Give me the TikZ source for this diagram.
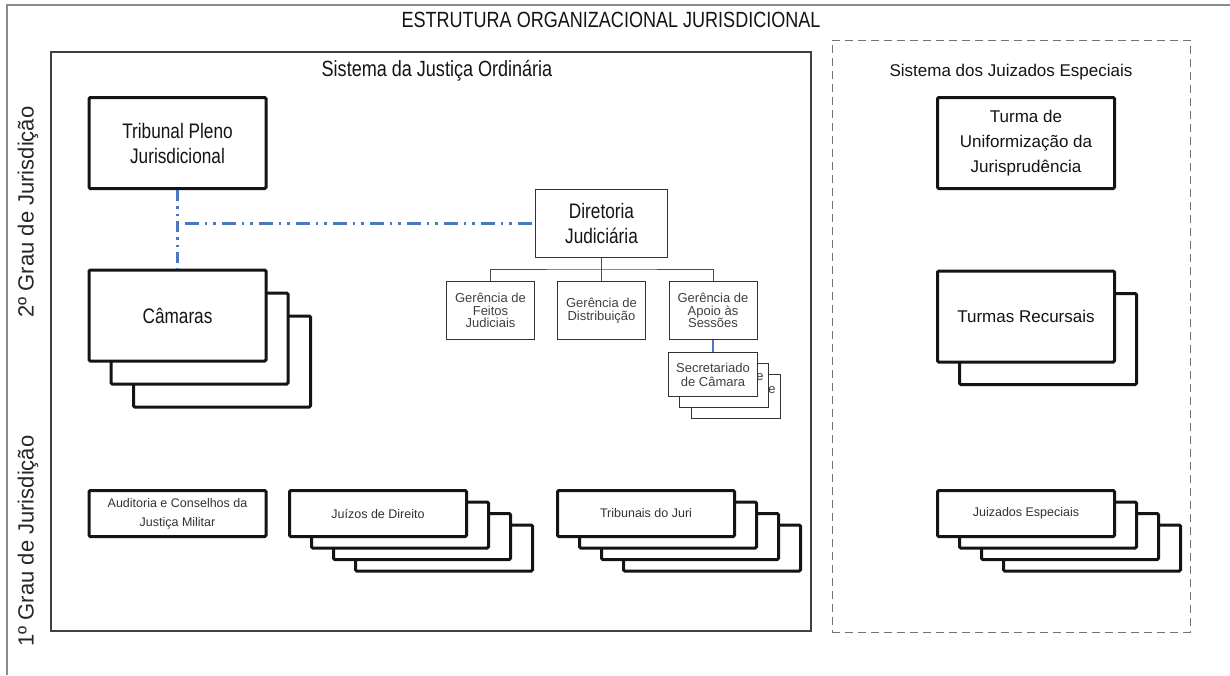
\documentclass[tikz,border=0pt]{standalone}
\usepackage{fontspec}
\setmainfont{Liberation Sans}
\newfontfamily\narrow[FakeStretch=0.82]{Liberation Sans}
\definecolor{jblue}{HTML}{4A78C2}
\newcommand\setfs[2]{\fontsize{#1}{#2}\selectfont}
\begin{document}
\begin{tikzpicture}[x=1pt,y=-1pt,
  thickbox/.style={draw=black!92, line width=3pt, fill=white, rounded corners=1.2pt, inner sep=0pt, align=center, minimum width=177pt},
  thinbox/.style={draw=black!80, line width=1pt, fill=white, inner sep=0pt, align=center},
  bigL/.style={font=\narrow\setfs{21}{25}, text=black!92},
  bigR/.style={font=\setfs{17}{25}, text=black!92},
  smalltxt/.style={font=\setfs{13}{12.5}, text=black!75},
  bottxt/.style={font=\setfs{12.5}{19}, text=black!80},
  tallbox/.style={thickbox, minimum height=91pt},
  lowbox/.style={thickbox, minimum height=46pt},
  gerbox/.style={thinbox, minimum width=88pt, minimum height=58pt, smalltxt},
  secbox/.style={thinbox, minimum width=89pt, minimum height=44pt, font=\setfs{13}{14}, text=black!75},
  blueline/.style={draw=jblue, line width=2.5pt},
  treeline/.style={draw=black!70, line width=1pt}
]
\useasboundingbox (0,0) rectangle (1230,675);

% outer frame
\draw[draw=black!45, line width=1.5pt] (7,675) -- (7,5) -- (1230,5);
\node[font=\narrow\setfs{22}{26}, text=black!92] (title) at (611,20) {ESTRUTURA ORGANIZACIONAL JURISDICIONAL};

% side labels
\node[rotate=90, font=\setfs{22}{26}, text=black!85] (grau2) at (28,212) {2º Grau de Jurisdição};
\node[rotate=90, font=\setfs{22}{26}, text=black!85] (grau1) at (28,541) {1º Grau de Jurisdição};

% system frames
\node[draw=black!75, line width=1.2pt, minimum width=760pt, minimum height=579pt, inner sep=0pt] (ord) at (431,341.5) {};
\node[font=\narrow\setfs{22}{26}, text=black!92] (ordt) at (437,71) {Sistema da Justiça Ordinária};
\node[draw=black!55, line width=1pt, dash pattern=on 8pt off 5pt, minimum width=358pt, minimum height=592pt, inner sep=0pt] (esp) at (1011,336) {};
\node[font=\setfs{17}{20}, text=black!92] (espt) at (1011,72) {Sistema dos Juizados Especiais};

% 2nd degree, left
\node[tallbox, bigL] (trib) at (177.5,143) {Tribunal Pleno\\Jurisdicional};
\node[tallbox] (cam3) at (222,361.5) {};
\node[tallbox] (cam2) at (199.5,338.5) {};
\node[tallbox, bigL] (cam1) at (177.5,315.5) {Câmaras};

% Diretoria tree
\node[thinbox, bigL, minimum width=132pt, minimum height=68pt] (dir) at (601.5,223.5) {Diretoria\\Judiciária};
\node[gerbox] (g1) at (490.5,310.5) {Gerência de\\Feitos\\Judiciais};
\node[gerbox] (g2) at (601.5,310.5) {Gerência de\\Distribuição};
\node[gerbox] (g3) at (713,310.5) {Gerência de\\Apoio às\\Sessões};
\coordinate (bus) at (601.5,269);
\draw[treeline] (dir.south) -- (bus);
\draw[treeline] (g1.north) |- (bus) -| (g3.north);
\draw[treeline] (bus) -- (g2.north);

\node[secbox] (sec3) at (735.5,396) {};
\node[font=\setfs{13}{14}, text=black!75, inner sep=0pt] (e3) at (772,390) {e};
\node[secbox] (sec2) at (723.5,385) {};
\node[font=\setfs{13}{14}, text=black!75, inner sep=0pt] (e2) at (760,377) {e};
\node[secbox] (sec1) at (713,374.5) {Secretariado\\de Câmara};
\draw[blueline] (g3.south) -- (sec1.north);

% dash-dot connectors
\coordinate (jn) at ([xshift=7pt]trib.south |- dir.west);
\draw[blueline, dash pattern=on 11pt off 5pt on 2.5pt off 5pt on 2.5pt off 5pt] (trib.south) -- (cam1.north);
\draw[blueline, dash pattern=on 14pt off 6pt on 2.5pt off 6pt on 2.5pt off 6pt] (jn) -- (dir.west);

% 1st degree, left
\node[lowbox, bottxt] (aud) at (177.5,513.5) {Auditoria e Conselhos da\\Justiça Militar};
\node[lowbox] (jd4) at (444,548) {};
\node[lowbox] (jd3) at (422,536.5) {};
\node[lowbox] (jd2) at (400,525) {};
\node[lowbox, bottxt] (jd1) at (378,513.5) {Juízos de Direito};
\node[lowbox] (tj4) at (712,548) {};
\node[lowbox] (tj3) at (690,536.5) {};
\node[lowbox] (tj2) at (668,525) {};
\node[lowbox, bottxt] (tj1) at (646,513.5) {Tribunais do Juri};

% right system
\node[tallbox, bigR] (turma) at (1026,143) {Turma de\\Uniformização da\\Jurisprudência};
\node[tallbox] (tr2) at (1048,339) {};
\node[tallbox, bigR] (tr1) at (1026,316.5) {Turmas Recursais};
\node[lowbox] (je4) at (1092,548) {};
\node[lowbox] (je3) at (1070,536.5) {};
\node[lowbox] (je2) at (1048,525) {};
\node[lowbox, bottxt] (je1) at (1026,513.5) {Juizados Especiais};
\end{tikzpicture}
\end{document}
